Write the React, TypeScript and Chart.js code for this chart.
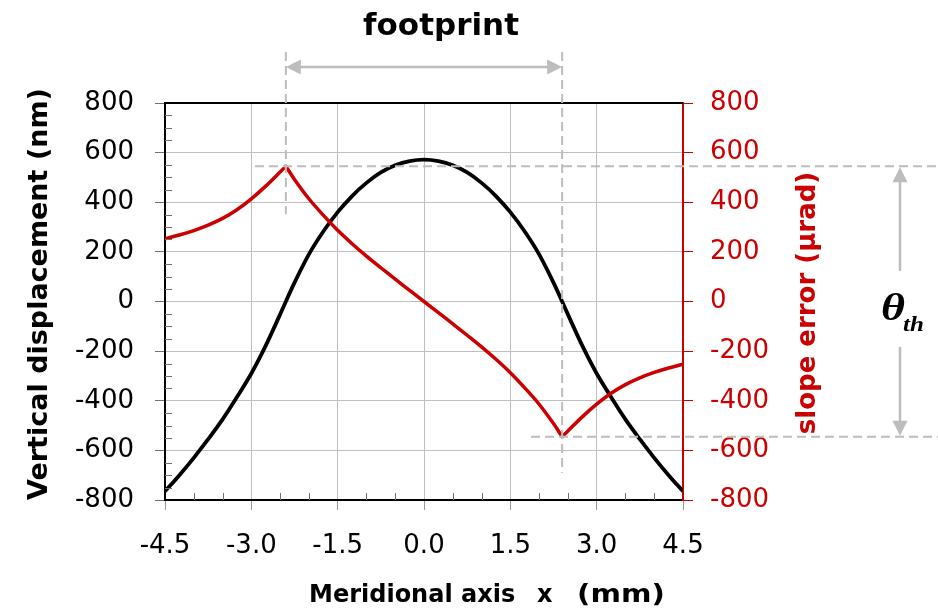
import React, { useEffect, useRef } from "react";
import { Chart, registerables } from "chart.js";

Chart.register(...registerables);

// Vertical displacement (nm) — black curve, left axis
const displacementX = [
  -4.5, -4.25, -4, -3.75, -3.5, -3.25, -3, -2.75, -2.5, -2.25, -2, -1.75, -1.5, -1.25, -1, -0.75, -0.5, -0.25,
  0, 0.25, 0.5, 0.75, 1, 1.25, 1.5, 1.75, 2, 2.25, 2.5, 2.75, 3, 3.25, 3.5, 3.75, 4, 4.25, 4.5,
];
const displacement = [
  -765, -700, -630, -555, -475, -385, -290, -178, -52, 76, 190, 282, 360, 425, 478, 520, 549, 566,
  572, 566, 549, 520, 478, 425, 360, 282, 190, 76, -52, -178, -290, -385, -475, -555, -630, -700, -765,
];

// Slope error (µrad) — red curve, right axis (null = break at the cusps so they stay sharp)
const slopeX = [
  -4.5, -4.25, -4, -3.75, -3.5, -3.25, -3, -2.75, -2.5, -2.4, -2.4, -2.4, -2.25, -2, -1.75, -1.5, -1.25, -1, -0.75, -0.5, -0.25,
  0, 0.25, 0.5, 0.75, 1, 1.25, 1.5, 1.75, 2, 2.25, 2.4, 2.4, 2.4, 2.5, 2.75, 3, 3.25, 3.5, 3.75, 4, 4.25, 4.5,
];
const slopeError = [
  253, 268, 286, 308, 335, 370, 414, 465, 522, 545, null, 545, 492, 414, 348, 287, 233, 183, 136, 90, 45,
  0, -45, -90, -136, -183, -233, -287, -348, -414, -492, -545, null, -545, -522, -465, -414, -370, -335, -308, -286, -268, -253,
];

const xTicks = [-4.5, -3, -1.5, 0, 1.5, 3, 4.5];
const yTicks = [-800, -600, -400, -200, 0, 200, 400, 600, 800];
const footprintEdges = [-2.4, 2.4];
const slopeLimits = [545, -545];

const RED = "#cc0000";
const GRID = "#bfbfbf";
const DASH = "#bdbdbd";

function arrowHead(ctx: CanvasRenderingContext2D, tipX: number, tipY: number, dx: number, dy: number) {
  const len = 15;
  const half = 7.5;
  const bx = tipX - dx * len;
  const by = tipY - dy * len;
  const px = -dy;
  const py = dx;
  ctx.beginPath();
  ctx.moveTo(tipX, tipY);
  ctx.lineTo(bx + px * half, by + py * half);
  ctx.lineTo(bx - px * half, by - py * half);
  ctx.closePath();
  ctx.fill();
}

const annotationPlugin = {
  id: "annotations",
  afterDatasetsDraw(chart: any) {
    const ctx: CanvasRenderingContext2D = chart.ctx;
    const xs = chart.scales.x;
    const yl = chart.scales.y;
    const yr = chart.scales.y2;
    const area = chart.chartArea;
    ctx.save();

    // minor ticks (inside) on left axis
    ctx.strokeStyle = "#707070";
    ctx.lineWidth = 1;
    for (let v = -800; v <= 800; v += 50) {
      if (v % 200 === 0) continue;
      const py = Math.round(yl.getPixelForValue(v)) + 0.5;
      ctx.beginPath();
      ctx.moveTo(area.left, py);
      ctx.lineTo(area.left + 7, py);
      ctx.stroke();
    }
    // minor ticks (inside) on bottom axis
    for (let i = -9; i <= 9; i++) {
      if (i % 3 === 0) continue;
      const px = Math.round(xs.getPixelForValue(i * 0.5)) + 0.5;
      ctx.beginPath();
      ctx.moveTo(px, area.bottom);
      ctx.lineTo(px, area.bottom - 7);
      ctx.stroke();
    }

    // top border
    ctx.strokeStyle = "#000";
    ctx.lineWidth = 2;
    ctx.beginPath();
    ctx.moveTo(area.left - 1, area.top);
    ctx.lineTo(area.right, area.top);
    ctx.stroke();

    // dashed guide lines
    ctx.strokeStyle = DASH;
    ctx.lineWidth = 2;
    ctx.setLineDash([9, 5]);
    const leftEdge = xs.getPixelForValue(footprintEdges[0]);
    const rightEdge = xs.getPixelForValue(footprintEdges[1]);
    const topLimit = yr.getPixelForValue(slopeLimits[0]);
    const botLimit = yr.getPixelForValue(slopeLimits[1]);
    ctx.beginPath();
    ctx.moveTo(leftEdge, 52);
    ctx.lineTo(leftEdge, topLimit + 48);
    ctx.moveTo(rightEdge, 52);
    ctx.lineTo(rightEdge, botLimit + 36);
    ctx.moveTo(255, topLimit);
    ctx.lineTo(938, topLimit);
    ctx.moveTo(531, botLimit);
    ctx.lineTo(938, botLimit);
    ctx.stroke();
    ctx.setLineDash([]);

    // footprint arrow
    ctx.strokeStyle = DASH;
    ctx.fillStyle = DASH;
    ctx.lineWidth = 2.5;
    const ay = 67;
    ctx.beginPath();
    ctx.moveTo(leftEdge + 10, ay);
    ctx.lineTo(rightEdge - 10, ay);
    ctx.stroke();
    arrowHead(ctx, leftEdge, ay, -1, 0);
    arrowHead(ctx, rightEdge, ay, 1, 0);

    // theta arrow
    const tx = 900;
    ctx.beginPath();
    ctx.moveTo(tx, topLimit + 10);
    ctx.lineTo(tx, 271);
    ctx.moveTo(tx, 347);
    ctx.lineTo(tx, botLimit - 10);
    ctx.stroke();
    arrowHead(ctx, tx, topLimit + 1, 0, -1);
    arrowHead(ctx, tx, botLimit - 1, 0, 1);

    // texts
    ctx.fillStyle = "#000";
    ctx.textAlign = "center";
    ctx.textBaseline = "alphabetic";
    ctx.font = 'bold 31px "DejaVu Sans"';
    ctx.fillText("footprint", 441, 35);

    ctx.textAlign = "left";
    ctx.save();
    ctx.translate(881, 320);
    ctx.scale(1.25, 1);
    ctx.font = 'bold italic 37px "Liberation Serif"';
    ctx.fillText("θ", 0, 0);
    ctx.restore();
    ctx.save();
    ctx.translate(903, 331);
    ctx.scale(1.25, 1);
    ctx.font = 'bold italic 20px "Liberation Serif"';
    ctx.fillText("th", 0, 0);
    ctx.restore();

    // bottom axis title
    ctx.font = 'bold 24px "DejaVu Sans"';
    ctx.textAlign = "left";
    ctx.fillText("Meridional axis", 309, 602);
    ctx.fillText("x", 537, 602);
    ctx.save();
    ctx.translate(577, 602);
    ctx.scale(1.22, 1);
    ctx.fillText("(mm)", 0, 0);
    ctx.restore();

    // left axis title
    ctx.save();
    ctx.translate(40, 294);
    ctx.rotate(-Math.PI / 2);
    ctx.textAlign = "center";
    ctx.textBaseline = "middle";
    ctx.font = 'bold 27px "DejaVu Sans"';
    ctx.fillText("Vertical displacement (nm)", 0, 0);
    ctx.restore();

    // right axis title
    ctx.save();
    ctx.translate(808, 303);
    ctx.rotate(-Math.PI / 2);
    ctx.textAlign = "center";
    ctx.textBaseline = "middle";
    ctx.fillStyle = RED;
    ctx.font = 'bold 26px "DejaVu Sans"';
    ctx.fillText("slope error (µrad)", 0, 0);
    ctx.restore();

    ctx.restore();
  },
};

export default function App() {
  const canvasRef = useRef<HTMLCanvasElement | null>(null);

  useEffect(() => {
    document.body.style.margin = "0";
    const canvas = canvasRef.current;
    if (!canvas) return;
    const tickFont = { family: "DejaVu Sans", size: 26 };
    const chart = new Chart(canvas, {
      type: "line",
      data: {
        datasets: [
          {
            label: "slope error",
            data: slopeX.map((x, i) => ({ x, y: slopeError[i] })),
            borderColor: RED,
            borderWidth: 3.5,
            borderCapStyle: "round",
            borderJoinStyle: "round",
            pointRadius: 0,
            tension: 0.35,
            spanGaps: false,
            yAxisID: "y2",
          },
          {
            label: "displacement",
            data: displacementX.map((x, i) => ({ x, y: displacement[i] })),
            borderColor: "#000",
            borderWidth: 3.8,
            pointRadius: 0,
            tension: 0.35,
            yAxisID: "y",
          },
        ],
      },
      options: {
        responsive: false,
        animation: false,
        devicePixelRatio: 1,
        layout: { padding: { top: 103, left: 0, right: 0, bottom: 0 } },
        plugins: { legend: { display: false }, tooltip: { enabled: false }, title: { display: false } },
        scales: {
          x: {
            type: "linear",
            min: -4.5,
            max: 4.5,
            afterBuildTicks: (s: any) => {
              s.ticks = xTicks.map((v) => ({ value: v }));
            },
            afterFit: (s: any) => {
              s.height = 116;
            },
            ticks: {
              callback: (v: any) => Number(v).toFixed(1),
              font: tickFont,
              color: "#000",
              padding: 21,
              maxRotation: 0,
              autoSkip: false,
            },
            grid: { color: GRID, lineWidth: 1, tickLength: 10, tickColor: "#999" },
            border: { color: "#000", width: 2 },
          },
          y: {
            position: "left",
            min: -800,
            max: 800,
            afterBuildTicks: (s: any) => {
              s.ticks = yTicks.map((v) => ({ value: v }));
            },
            afterFit: (s: any) => {
              s.width = 165;
            },
            ticks: { font: tickFont, color: "#000", padding: 21, autoSkip: false },
            grid: { color: GRID, lineWidth: 1, tickLength: 10, tickColor: "#707070" },
            border: { color: "#000", width: 2 },
          },
          y2: {
            position: "right",
            min: -800,
            max: 800,
            afterBuildTicks: (s: any) => {
              s.ticks = yTicks.map((v) => ({ value: v }));
            },
            afterFit: (s: any) => {
              s.width = 255;
            },
            ticks: { font: tickFont, color: RED, padding: 17, autoSkip: false },
            grid: { drawOnChartArea: false, tickLength: 10, tickColor: RED, color: RED },
            border: { color: RED, width: 2 },
          },
        },
      },
      plugins: [annotationPlugin],
    } as any);
    return () => chart.destroy();
  }, []);

  return (
    <div style={{ width: 938, height: 616, position: "relative" }}>
      <canvas ref={canvasRef} width={938} height={616} style={{ display: "block" }} />
    </div>
  );
}
